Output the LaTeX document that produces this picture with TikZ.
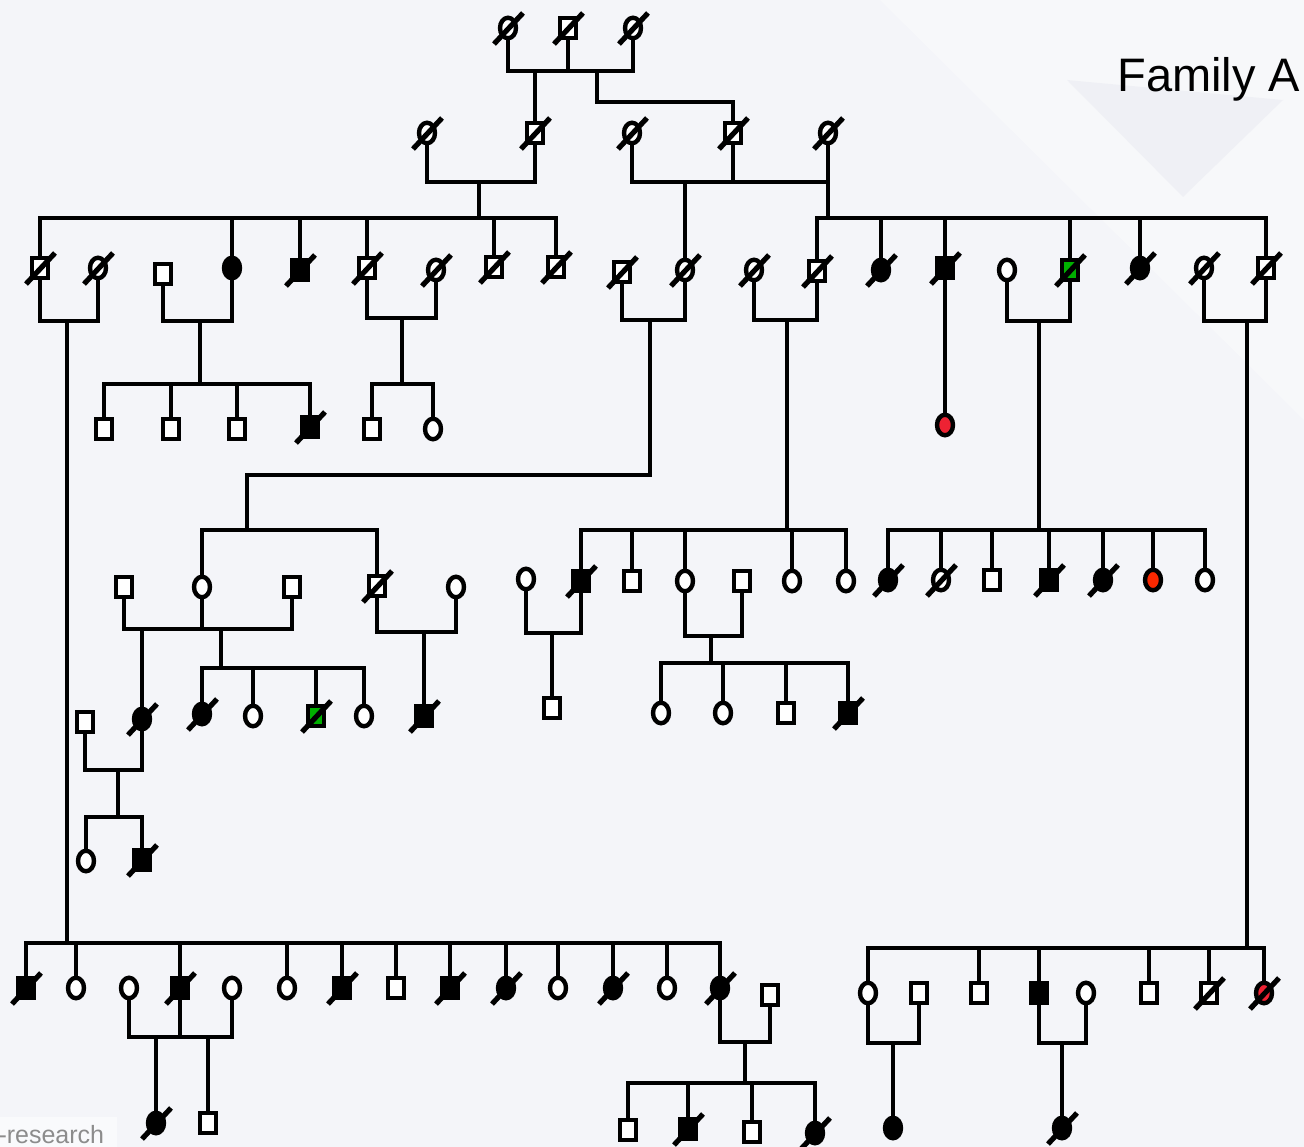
\documentclass[tikz,border=0pt]{standalone}
\usepackage{fontspec}
\setmainfont{Liberation Sans}
\usetikzlibrary{shapes.geometric}
\definecolor{bgc}{RGB}{244,245,249}
\definecolor{tintc}{RGB}{232,234,241}
\definecolor{grn}{RGB}{0,176,0}
\definecolor{redA}{RGB}{238,34,51}
\definecolor{redB}{RGB}{250,40,0}
\pgfdeclarelayer{back}
\pgfdeclarelayer{links}
\pgfsetlayers{back,links,main}

% couple: both partners drop to a bar through coordinate #3
\newcommand\pcouple[3]{\draw[lnk] (#1.center) -- (#1.center |- #3) -- (#2.center |- #3) -- (#2.center);}
% sibship bar from child #1 to child #2 at the height of coordinate #3
\newcommand\sibbar[3]{\draw[lnk] (#1.center |- #3) -- (#2.center |- #3);}
% drop lines from a sibship bar #1 to each child in #2
\newcommand\kids[2]{\foreach \k in {#2} {\draw[lnk] (\k.center |- #1) -- (\k.center);}}

\begin{document}
\begin{tikzpicture}[x=1pt,y=-1pt,
  lnk/.style={line width=4.8pt,line cap=rect,line join=miter},
  person/.style={draw,line width=4.4pt,inner sep=0pt,fill=white,
    minimum width=16pt,minimum height=20.5pt},
  male/.style={person,rectangle},
  female/.style={person,ellipse},
  aff/.style={fill=black},
  slashline/.style={line width=5.2pt}]

\useasboundingbox (0,0) rectangle (1304,1147);
\begin{pgfonlayer}{back}
  \fill[bgc] (0,0) rectangle (1304,1147);
  \fill[white,opacity=0.3] (880,0) -- (1304,0) -- (1304,420) -- cycle;
  \fill[tintc,opacity=0.5] (1067,80) -- (1283,100) -- (1183,197) -- cycle;
  \fill[white,opacity=0.5] (0,1117) rectangle (117,1147);
\end{pgfonlayer}

\node[anchor=base west,font=\fontsize{47}{47}\selectfont] (title) at (1114,92) {Family A};
\node[anchor=base west,text=black!45,font=\fontsize{25}{25}\selectfont] (mark) at (-5,1143) {-research};

% generation I
\node[female] (a1) at (508,28) {};
\node[male]   (a2) at (568,28) {};
\node[female] (a3) at (633,28) {};

% generation II
\node[female] (b1) at (427,133) {};
\node[male]   (b2) at (535,133) {};
\node[female] (b3) at (632,133) {};
\node[male]   (b4) at (733,133) {};
\node[female] (b5) at (828,133) {};

% generation III
\node[male]       (c1)  at (40,268) {};
\node[female]     (c2)  at (98,268) {};
\node[male]       (c3)  at (163,274) {};
\node[female,aff] (c4)  at (232,268) {};
\node[male,aff]   (c5)  at (300,270) {};
\node[male]       (c6)  at (367,268) {};
\node[female]     (c7)  at (436,270) {};
\node[male]       (c8)  at (494,267) {};
\node[male]       (c9)  at (556,267) {};
\node[male]       (c10) at (622,272) {};
\node[female]     (c11) at (685,270) {};
\node[female]     (c12) at (754,270) {};
\node[male]       (c13) at (817,271) {};
\node[female,aff] (c14) at (881,270) {};
\node[male,aff]   (c15) at (945,268) {};
\node[female]     (c16) at (1007,270) {};
\node[male,fill=grn] (c17) at (1070,270) {};
\node[female,aff] (c18) at (1140,268) {};
\node[female]     (c19) at (1204,268) {};
\node[male]       (c20) at (1266,268) {};

% generation IV
\node[male]     (d1) at (104,429) {};
\node[male]     (d2) at (171,429) {};
\node[male]     (d3) at (237,429) {};
\node[male,aff] (d4) at (310,427) {};
\node[male]     (d5) at (372,429) {};
\node[female]   (d6) at (433,429) {};
\node[female,fill=redA] (d7) at (945,425) {};

\node[male]       (e1)  at (124,587) {};
\node[female]     (e2)  at (202,587) {};
\node[male]       (e3)  at (292,587) {};
\node[male]       (e4)  at (377,586) {};
\node[female]     (e5)  at (456,587) {};
\node[female]     (e6)  at (526,579) {};
\node[male,aff]   (e7)  at (581,581) {};
\node[male]       (e8)  at (632,581) {};
\node[female]     (e9)  at (685,581) {};
\node[male]       (e10) at (742,581) {};
\node[female]     (e11) at (792,581) {};
\node[female]     (e12) at (846,581) {};
\node[female,aff] (e13) at (888,580) {};
\node[female]     (e14) at (941,580) {};
\node[male]       (e15) at (992,580) {};
\node[male,aff]   (e16) at (1049,580) {};
\node[female,aff] (e17) at (1103,580) {};
\node[female,fill=redB] (e18) at (1153,580) {};
\node[female]     (e19) at (1205,580) {};

% generation V
\node[male]       (f1)  at (85,722) {};
\node[female,aff] (f2)  at (142,719) {};
\node[female,aff] (f3)  at (202,714) {};
\node[female]     (f4)  at (253,716) {};
\node[male,fill=grn] (f5) at (316,716) {};
\node[female]     (f6)  at (364,716) {};
\node[male,aff]   (f7)  at (424,716) {};
\node[male]       (f8)  at (552,708) {};
\node[female]     (f9)  at (661,713) {};
\node[female]     (f10) at (723,713) {};
\node[male]       (f11) at (786,713) {};
\node[male,aff]   (f12) at (848,713) {};

\node[female]   (g1) at (86,861) {};
\node[male,aff] (g2) at (142,860) {};

% lower branch
\node[male,aff]   (h1)  at (26,988) {};
\node[female]     (h2)  at (76,988) {};
\node[female]     (h3)  at (129,988) {};
\node[male,aff]   (h4)  at (180,988) {};
\node[female]     (h5)  at (232,988) {};
\node[female]     (h6)  at (287,988) {};
\node[male,aff]   (h7)  at (342,988) {};
\node[male]       (h8)  at (396,988) {};
\node[male,aff]   (h9)  at (450,988) {};
\node[female,aff] (h10) at (506,988) {};
\node[female]     (h11) at (558,988) {};
\node[female,aff] (h12) at (613,988) {};
\node[female]     (h13) at (667,988) {};
\node[female,aff] (h14) at (720,988) {};
\node[male]       (h15) at (770,995) {};
\node[female]     (h16) at (868,993) {};
\node[male]       (h17) at (919,993) {};
\node[male]       (h18) at (979,993) {};
\node[male,aff]   (h19) at (1039,993) {};
\node[female]     (h20) at (1086,993) {};
\node[male]       (h21) at (1149,993) {};
\node[male]       (h22) at (1209,993) {};
\node[female,fill=redA] (h23) at (1264,993) {};

\node[female,aff] (i1) at (156,1123) {};
\node[male]       (i2) at (208,1123) {};
\node[male]       (i3) at (628,1130) {};
\node[male,aff]   (i4) at (688,1129) {};
\node[male]       (i5) at (752,1132) {};
\node[female,aff] (i6) at (815,1133) {};
\node[female,aff] (i7) at (893,1128) {};
\node[female,aff] (i8) at (1062,1128) {};

% deceased marks
\foreach \n in {a1,a2,a3,b1,b2,b3,b4,b5,c1,c2,c5,c6,c7,c8,c9,c10,c11,c12,c13,
  c14,c15,c17,c18,c19,c20,d4,e4,e7,e13,e14,e16,e17,f2,f3,f5,f7,f12,g2,
  h1,h4,h7,h9,h10,h12,h14,h22,h23,i1,i4,i6,i8}
  {\draw[slashline] (\n.center) ++(-14,16) -- ++(29,-31);}

% junction points
\coordinate (m1) at (535,71);
\coordinate (m1b) at (597,71);
\coordinate (j1) at (597,102);
\coordinate (m2) at (479,182);
\coordinate (s1) at (479,218);
\coordinate (m3) at (685,182);
\coordinate (s2) at (828,218);
\coordinate (m4) at (67,321);
\coordinate (s8) at (67,943);
\coordinate (m5) at (200,321);
\coordinate (s3) at (200,384);
\coordinate (m6) at (402,318);
\coordinate (s4) at (402,384);
\coordinate (m7) at (650,320);
\coordinate (j2) at (650,475);
\coordinate (j3) at (247,475);
\coordinate (s5) at (247,530);
\coordinate (m8) at (787,320);
\coordinate (s6) at (787,530);
\coordinate (m9) at (1039,321);
\coordinate (s7) at (1039,530);
\coordinate (m10) at (1247,321);
\coordinate (s9) at (1247,948);
\coordinate (m11) at (142,629);
\coordinate (m12) at (221,629);
\coordinate (s10) at (221,668);
\coordinate (m13) at (424,632);
\coordinate (m14) at (552,633);
\coordinate (m15) at (711,636);
\coordinate (s11) at (711,663);
\coordinate (m16) at (118,770);
\coordinate (s12) at (118,817);
\coordinate (m17) at (156,1037);
\coordinate (m18) at (208,1037);
\coordinate (m19) at (745,1042);
\coordinate (s13) at (745,1083);
\coordinate (m20) at (893,1043);
\coordinate (m21) at (1062,1043);

\begin{pgfonlayer}{links}
  % generation I
  \pcouple{a1}{a3}{m1}
  \draw[lnk] (a2.center) -- (a2.center |- m1);
  \draw[lnk] (m1) -- (b2.center);
  \draw[lnk] (m1b) -- (j1) -- (j1 -| b4.center) -- (b4.center);
  % generation II
  \pcouple{b1}{b2}{m2}
  \draw[lnk] (m2) -- (s1);
  \sibbar{c1}{c9}{s1}
  \kids{s1}{c1,c4,c5,c6,c8,c9}
  \pcouple{b3}{b5}{m3}
  \draw[lnk] (b4.center) -- (b4.center |- m3);
  \draw[lnk] (m3) -- (c11.center);
  \draw[lnk] (b5.center |- m3) -- (s2);
  \sibbar{c13}{c20}{s2}
  \kids{s2}{c13,c14,c15,c17,c18,c20}
  % generation III
  \pcouple{c1}{c2}{m4}
  \draw[lnk] (m4) -- (s8);
  \sibbar{h1}{h14}{s8}
  \kids{s8}{h1,h2,h4,h6,h7,h8,h9,h10,h11,h12,h13,h14}
  \pcouple{c3}{c4}{m5}
  \draw[lnk] (m5) -- (s3);
  \sibbar{d1}{d4}{s3}
  \kids{s3}{d1,d2,d3,d4}
  \pcouple{c6}{c7}{m6}
  \draw[lnk] (m6) -- (s4);
  \sibbar{d5}{d6}{s4}
  \kids{s4}{d5,d6}
  \pcouple{c10}{c11}{m7}
  \draw[lnk] (m7) -- (j2) -- (j3) -- (s5);
  \sibbar{e2}{e4}{s5}
  \kids{s5}{e2,e4}
  \pcouple{c12}{c13}{m8}
  \draw[lnk] (m8) -- (s6);
  \sibbar{e7}{e12}{s6}
  \kids{s6}{e7,e8,e9,e11,e12}
  \draw[lnk] (c15.center) -- (d7.center);
  \pcouple{c16}{c17}{m9}
  \draw[lnk] (m9) -- (s7);
  \sibbar{e13}{e19}{s7}
  \kids{s7}{e13,e14,e15,e16,e17,e18,e19}
  \pcouple{c19}{c20}{m10}
  \draw[lnk] (m10) -- (s9);
  \sibbar{h16}{h23}{s9}
  \kids{s9}{h16,h18,h19,h21,h22,h23}
  % generation IV
  \pcouple{e1}{e3}{m11}
  \draw[lnk] (e2.center) -- (e2.center |- m11);
  \draw[lnk] (m11) -- (f2.center);
  \draw[lnk] (m12) -- (s10);
  \sibbar{f3}{f6}{s10}
  \kids{s10}{f3,f4,f5,f6}
  \pcouple{e4}{e5}{m13}
  \draw[lnk] (m13) -- (f7.center);
  \pcouple{e6}{e7}{m14}
  \draw[lnk] (m14) -- (f8.center);
  \pcouple{e9}{e10}{m15}
  \draw[lnk] (m15) -- (s11);
  \sibbar{f9}{f12}{s11}
  \kids{s11}{f9,f10,f11,f12}
  % generation V
  \pcouple{f1}{f2}{m16}
  \draw[lnk] (m16) -- (s12);
  \sibbar{g1}{g2}{s12}
  \kids{s12}{g1,g2}
  % lower branch
  \pcouple{h3}{h5}{m17}
  \draw[lnk] (h4.center) -- (h4.center |- m17);
  \draw[lnk] (m17) -- (i1.center);
  \draw[lnk] (m18) -- (i2.center);
  \pcouple{h14}{h15}{m19}
  \draw[lnk] (m19) -- (s13);
  \sibbar{i3}{i6}{s13}
  \kids{s13}{i3,i4,i5,i6}
  \pcouple{h16}{h17}{m20}
  \draw[lnk] (m20) -- (i7.center);
  \pcouple{h19}{h20}{m21}
  \draw[lnk] (m21) -- (i8.center);
\end{pgfonlayer}
\end{tikzpicture}
\end{document}
